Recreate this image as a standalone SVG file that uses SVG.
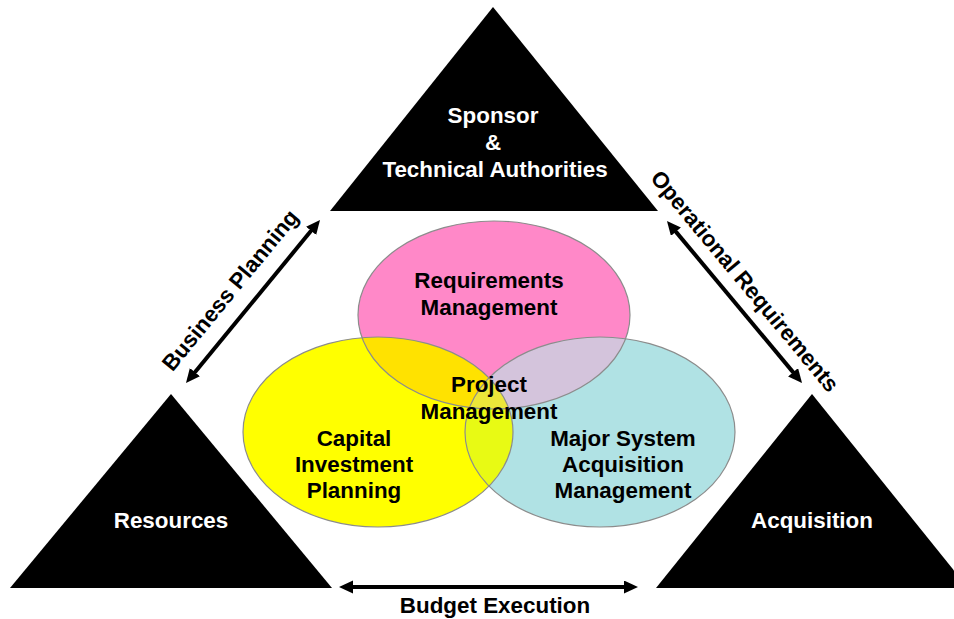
<svg xmlns="http://www.w3.org/2000/svg" width="954" height="619" viewBox="0 0 954 619">
<style>
  .tri { fill: #000000; }
  .wt { fill: #ffffff; font-family: "Liberation Sans", Arial, sans-serif; font-weight: bold; font-size: 22.4px; text-anchor: middle; }
  .bt { fill: #000000; font-family: "Liberation Sans", Arial, sans-serif; font-weight: bold; font-size: 22.4px; text-anchor: middle; }
  .edge { fill: none; stroke: #8c8c8c; stroke-width: 1.2; }
  .arrow { stroke: #000000; stroke-width: 4; fill: none; marker-start: url(#head); marker-end: url(#head); }
</style>
<defs>
  <marker id="head" markerUnits="userSpaceOnUse" markerWidth="15" markerHeight="14" refX="8" refY="6.5" orient="auto-start-reverse">
    <path d="M0,0 L14,6.5 L0,13 z" fill="#000000"/>
  </marker>
  <clipPath id="cPink"><ellipse cx="494" cy="315" rx="136" ry="94"/></clipPath>
  <clipPath id="cYellow"><ellipse cx="378" cy="432" rx="135" ry="95"/></clipPath>
  <clipPath id="cCyan"><ellipse cx="600" cy="432" rx="135" ry="95"/></clipPath>
</defs>
<rect width="954" height="619" fill="#ffffff"/>

<g id="sponsor">
  <polygon class="tri" points="493,7 330,211 658,211"/>
  <text class="wt" x="493" y="123">Sponsor</text>
  <text class="wt" x="493" y="150">&amp;</text>
  <text class="wt" x="495" y="177">Technical Authorities</text>
</g>
<g id="resources">
  <polygon class="tri" points="171,394 10,588 332,588"/>
  <text class="wt" x="171" y="528">Resources</text>
</g>
<g id="acquisition">
  <polygon class="tri" points="812,394 656,588 968,588"/>
  <text class="wt" x="812" y="528">Acquisition</text>
</g>

<g id="venn">
  <ellipse cx="494" cy="315" rx="136" ry="94" fill="#ff88c8"/>
  <ellipse cx="378" cy="432" rx="135" ry="95" fill="#ffff00"/>
  <ellipse cx="600" cy="432" rx="135" ry="95" fill="#b0e2e4"/>
  <g clip-path="url(#cPink)">
    <ellipse cx="378" cy="432" rx="135" ry="95" fill="#ffe200"/>
    <ellipse cx="600" cy="432" rx="135" ry="95" fill="#d4c4dc"/>
  </g>
  <g clip-path="url(#cYellow)">
    <ellipse cx="600" cy="432" rx="135" ry="95" fill="#e8fa14"/>
  </g>
  <g clip-path="url(#cYellow)">
    <g clip-path="url(#cPink)">
      <ellipse cx="600" cy="432" rx="135" ry="95" fill="#ece63a"/>
    </g>
  </g>
  <ellipse class="edge" cx="494" cy="315" rx="136" ry="94"/>
  <ellipse class="edge" cx="378" cy="432" rx="135" ry="95"/>
  <ellipse class="edge" cx="600" cy="432" rx="135" ry="95"/>
</g>

<g id="requirements-management">
  <text class="bt" x="489" y="288">Requirements</text>
  <text class="bt" x="489" y="315">Management</text>
</g>
<g id="project-management">
  <text class="bt" x="489" y="392">Project</text>
  <text class="bt" x="489" y="419">Management</text>
</g>
<g id="capital-investment-planning">
  <text class="bt" x="354" y="446">Capital</text>
  <text class="bt" x="354" y="472">Investment</text>
  <text class="bt" x="354" y="498">Planning</text>
</g>
<g id="major-system-acquisition-management">
  <text class="bt" x="623" y="446">Major System</text>
  <text class="bt" x="623" y="472">Acquisition</text>
  <text class="bt" x="623" y="498">Management</text>
</g>

<g id="connectors">
  <line class="arrow" x1="189.8" y1="378.4" x2="316.2" y2="224.6"/>
  <line class="arrow" x1="670.8" y1="225.6" x2="798.2" y2="378.4"/>
  <line class="arrow" x1="345" y1="587" x2="632" y2="587"/>
  <text class="bt" x="236" y="295" transform="rotate(-50.6 236 295)">Business Planning</text>
  <text class="bt" x="739" y="286" transform="rotate(50.2 739 286)">Operational Requirements</text>
  <text class="bt" x="495" y="613">Budget Execution</text>
</g>
</svg>
